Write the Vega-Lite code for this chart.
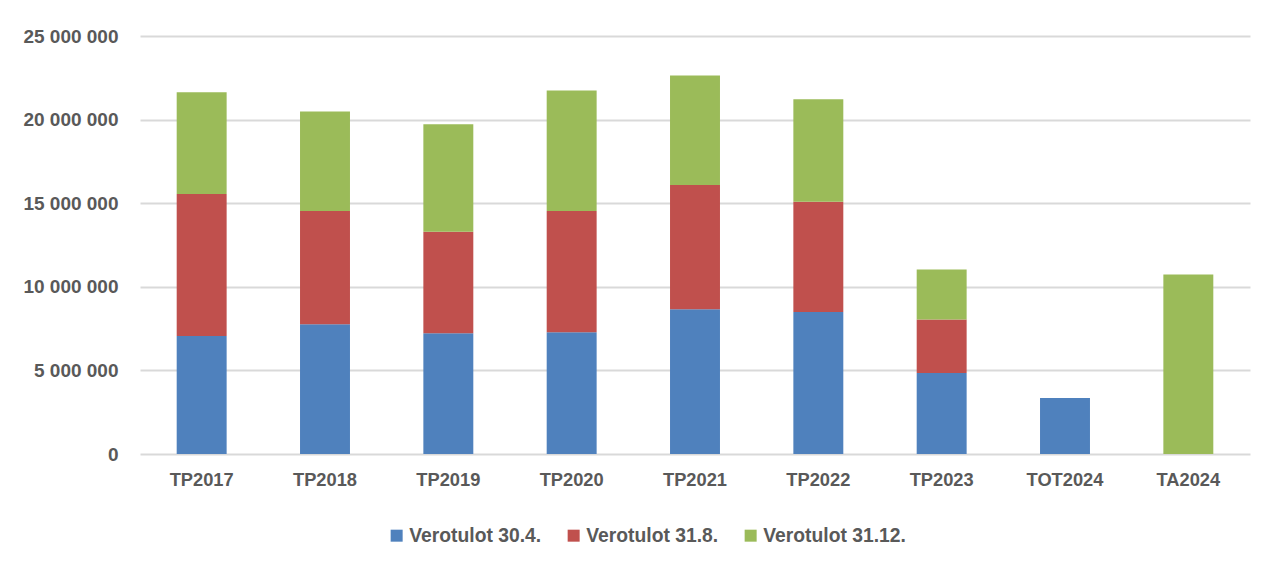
{
  "$schema": "https://vega.github.io/schema/vega-lite/v6.json",
  "autosize": {"type": "none"},
  "padding": {"left": 140, "top": 36, "right": 32, "bottom": 112},
  "width": 1110,
  "height": 418,
  "background": "white",
  "config": {
    "locale": {"number": {"decimal": ",", "thousands": " ", "grouping": [3], "currency": ["", " €"]}},
    "view": {"stroke": null},
    "font": "Liberation Sans"
  },
  "data": {
    "values": [
      {"kausi": "TP2017", "sarja": "Verotulot 30.4.", "arvo": 7060000},
      {"kausi": "TP2017", "sarja": "Verotulot 31.8.", "arvo": 8490000},
      {"kausi": "TP2017", "sarja": "Verotulot 31.12.", "arvo": 6080000},
      {"kausi": "TP2018", "sarja": "Verotulot 30.4.", "arvo": 7760000},
      {"kausi": "TP2018", "sarja": "Verotulot 31.8.", "arvo": 6780000},
      {"kausi": "TP2018", "sarja": "Verotulot 31.12.", "arvo": 5950000},
      {"kausi": "TP2019", "sarja": "Verotulot 30.4.", "arvo": 7220000},
      {"kausi": "TP2019", "sarja": "Verotulot 31.8.", "arvo": 6070000},
      {"kausi": "TP2019", "sarja": "Verotulot 31.12.", "arvo": 6430000},
      {"kausi": "TP2020", "sarja": "Verotulot 30.4.", "arvo": 7280000},
      {"kausi": "TP2020", "sarja": "Verotulot 31.8.", "arvo": 7260000},
      {"kausi": "TP2020", "sarja": "Verotulot 31.12.", "arvo": 7200000},
      {"kausi": "TP2021", "sarja": "Verotulot 30.4.", "arvo": 8650000},
      {"kausi": "TP2021", "sarja": "Verotulot 31.8.", "arvo": 7440000},
      {"kausi": "TP2021", "sarja": "Verotulot 31.12.", "arvo": 6550000},
      {"kausi": "TP2022", "sarja": "Verotulot 30.4.", "arvo": 8490000},
      {"kausi": "TP2022", "sarja": "Verotulot 31.8.", "arvo": 6590000},
      {"kausi": "TP2022", "sarja": "Verotulot 31.12.", "arvo": 6130000},
      {"kausi": "TP2023", "sarja": "Verotulot 30.4.", "arvo": 4840000},
      {"kausi": "TP2023", "sarja": "Verotulot 31.8.", "arvo": 3210000},
      {"kausi": "TP2023", "sarja": "Verotulot 31.12.", "arvo": 2980000},
      {"kausi": "TOT2024", "sarja": "Verotulot 30.4.", "arvo": 3350000},
      {"kausi": "TA2024", "sarja": "Verotulot 31.12.", "arvo": 10730000}
    ]
  },
  "transform": [
    {"calculate": "indexof(['Verotulot 30.4.', 'Verotulot 31.8.', 'Verotulot 31.12.'], datum.sarja)", "as": "jarjestys"}
  ],
  "mark": {"type": "bar"},
  "encoding": {
    "x": {
      "field": "kausi",
      "type": "nominal",
      "sort": ["TP2017", "TP2018", "TP2019", "TP2020", "TP2021", "TP2022", "TP2023", "TOT2024", "TA2024"],
      "scale": {"paddingInner": 0.595, "paddingOuter": 0.2975},
      "axis": {
        "title": null,
        "labelAngle": 0,
        "ticks": false,
        "domain": false,
        "labelPadding": 17,
        "labelFontSize": 18.3,
        "labelFontWeight": "bold",
        "labelColor": "#595959"
      }
    },
    "y": {
      "field": "arvo",
      "type": "quantitative",
      "stack": "zero",
      "scale": {"domain": [0, 25000000], "nice": false},
      "axis": {
        "title": null,
        "values": [0, 5000000, 10000000, 15000000, 20000000, 25000000],
        "format": ",.0f",
        "ticks": false,
        "domain": false,
        "labelPadding": 22,
        "labelFontSize": 19,
        "labelFontWeight": "bold",
        "labelColor": "#595959",
        "grid": true,
        "gridColor": "#d9d9d9",
        "gridWidth": 1.8
      }
    },
    "color": {
      "field": "sarja",
      "type": "nominal",
      "scale": {
        "domain": ["Verotulot 30.4.", "Verotulot 31.8.", "Verotulot 31.12."],
        "range": ["#4F81BD", "#C0504D", "#9BBB59"]
      },
      "legend": {
        "title": null,
        "orient": "none",
        "legendX": 247,
        "legendY": 490,
        "direction": "horizontal",
        "symbolType": "square",
        "symbolSize": 144,
        "symbolStrokeWidth": 0,
        "labelFontSize": 19.3,
        "labelFontWeight": "bold",
        "labelColor": "#595959",
        "labelOffset": 3,
        "columnPadding": 22
      }
    },
    "order": {"field": "jarjestys", "type": "quantitative", "sort": "ascending"}
  }
}
